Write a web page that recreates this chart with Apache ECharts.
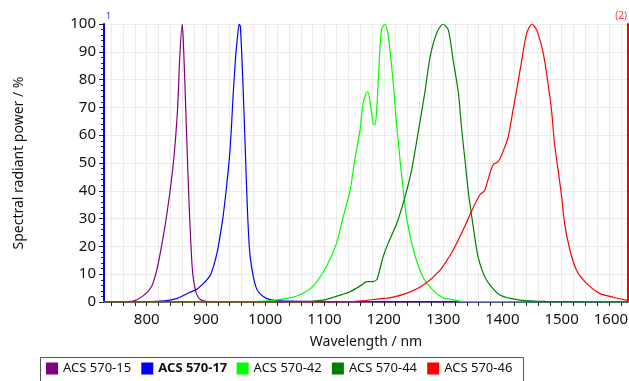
<!DOCTYPE html>
<html>
<head>
<meta charset="utf-8">
<script src="https://cdn.jsdelivr.net/npm/echarts@6/dist/echarts.min.js"></script>
<style>
  html, body { margin: 0; padding: 0; background: #fff; }
  #chart { width: 629px; height: 381px; }
</style>
</head>
<body>
<div id="chart"></div>
<script>
// series names and colours
const names = ['ACS 570-15', 'ACS 570-17', 'ACS 570-42', 'ACS 570-44', 'ACS 570-46'];
const colors = ['#800080', '#0000ff', '#00ff00', '#008000', '#ff0000'];

// wavelength (nm) / spectral radiant power (%)
const wl15 = [728, 760, 777, 794, 808, 817, 825, 835, 845, 852, 856, 860, 862, 866, 869, 872, 876, 879, 884, 890, 900, 920, 1612];
const p15 = [0, 0.1, 0.3, 2.2, 5.5, 11.5, 20, 33, 50, 69, 89, 100, 93, 69, 50, 33, 15, 8, 3, 1, 0.2, 0, 0];

const wl17 = [728, 800, 830, 850, 873, 884, 895, 907, 913, 919, 924, 929, 934, 940, 943, 946, 950, 953, 956, 958, 962, 966, 970, 974, 980, 985, 991, 1002, 1019, 1075, 1100, 1612];
const p17 = [0, 0.1, 0.4, 1.2, 3.5, 4.5, 6.5, 9.5, 13, 18, 24, 31, 40, 53, 63, 75, 88, 95, 100, 99, 81, 57, 33, 17.5, 9, 5, 3, 1.3, 0.5, 0.2, 0.1, 0];

const wl42 = [728, 960, 1000, 1036, 1058, 1080, 1103, 1120, 1132, 1143, 1151, 1160, 1165, 1170, 1173, 1178, 1182, 1185, 1188, 1191, 1196, 1202, 1207, 1215, 1221, 1227, 1233, 1238, 1250, 1266, 1283, 1300, 1312, 1334, 1612];
const p42 = [0, 0, 0.3, 1.3, 2.5, 5.5, 12.7, 21, 31, 40, 51, 62, 71.5, 75, 75.6, 70.3, 64.3, 63.7, 69, 81, 97.8, 100, 96.6, 81, 65.5, 52, 40, 31, 18.7, 9, 4.3, 1.5, 1, 0.2, 0];

const wl44 = [728, 1050, 1098, 1115, 1143, 1162, 1171, 1179, 1188, 1193, 1199, 1207, 1222, 1236, 1247, 1258, 1269, 1278, 1289, 1300, 1309, 1317, 1326, 1331, 1337, 1343, 1351, 1359, 1373, 1396, 1430, 1474, 1612];
const p44 = [0, 0, 0.7, 1.7, 3.7, 6, 7.3, 7.3, 8, 11.5, 16.3, 21, 28.3, 38, 47.5, 61, 75, 88, 96.6, 100, 97.8, 87, 75, 63, 51, 39, 27, 16.3, 8, 2.5, 0.7, 0.2, 0];

const wl46 = [728, 1100, 1143, 1199, 1210, 1238, 1266, 1295, 1317, 1334, 1351, 1362, 1370, 1379, 1385, 1393, 1401, 1410, 1418, 1424, 1432, 1441, 1450, 1458, 1469, 1477, 1483, 1488, 1494, 1500, 1505, 1514, 1525, 1542, 1564, 1587, 1609, 1612];
const p46 = [0, 0, 0.1, 1.3, 1.5, 3.1, 6, 11.5, 18.7, 26, 34, 38.5, 40, 46.3, 49.5, 50.5, 54, 59.5, 69, 76, 86, 96.6, 100, 97.8, 89.5, 78.7, 69, 57, 47.5, 38, 28.3, 18.7, 11.5, 6.7, 3.1, 1.7, 0.7, 0.5];

// axis ticks
const xLabels = [800, 900, 1000, 1100, 1200, 1300, 1400, 1500, 1600];
const xMinorTicks = [740, 760, 780, 800, 820, 840, 860, 880, 900, 920, 940, 960, 980, 1000, 1020, 1040, 1060, 1080, 1100, 1120, 1140, 1160, 1180, 1200, 1220, 1240, 1260, 1280, 1300, 1320, 1340, 1360, 1380, 1400, 1420, 1440, 1460, 1480, 1500, 1520, 1540, 1560, 1580, 1600];

const wls = [wl15, wl17, wl42, wl44, wl46];
const powers = [p15, p17, p42, p44, p46];
const font = 'Noto Sans';

const chart = echarts.init(document.getElementById('chart'));

// one legend per entry so the items sit on an even step, like the original
const legends = names.map((n, i) => ({
  left: 46 + i * 95.3,
  top: 362,
  padding: 0,
  itemWidth: 12,
  itemHeight: 12,
  icon: 'rect',
  data: [n],
  textStyle: {
    fontFamily: font,
    fontSize: 13,
    fontWeight: n === 'ACS 570-17' ? 'bold' : 'normal',
    color: '#111',
  },
}));

const option = {
  animation: false,
  textStyle: { fontFamily: font },
  grid: { left: 104, right: 1, top: 24, bottom: 79, outerBoundsMode: 'none' },
  legend: legends,
  xAxis: [
    {
      type: 'value',
      min: 728,
      max: 1612,
      name: 'Wavelength / nm',
      nameLocation: 'middle',
      nameGap: 33,
      nameTextStyle: { fontSize: 14, color: '#111' },
      axisLine: { lineStyle: { color: '#808080', width: 2 } },
      axisTick: { customValues: xMinorTicks, length: 4, lineStyle: { color: '#222' } },
      axisLabel: {
        customValues: xLabels,
        fontSize: 15,
        color: '#111',
        margin: 10,
        // last label is pulled in so it stays inside the frame
        formatter: (v) => (v === 1600 ? '{r|1600}' : String(v)),
        rich: { r: { fontSize: 15, fontFamily: font, color: '#111', padding: [0, 20, 0, 0] } },
      },
      splitLine: { show: true, lineStyle: { color: '#ebebeb', width: 1 } },
    },
    {
      type: 'value',
      position: 'top',
      min: 728,
      max: 1612,
      axisLine: { lineStyle: { color: '#808080', width: 2 } },
      axisTick: { show: false },
      axisLabel: { show: false },
      splitLine: { show: false },
    },
  ],
  yAxis: [
    {
      type: 'value',
      min: 0,
      max: 100,
      interval: 10,
      name: 'Spectral radiant power / %',
      nameLocation: 'middle',
      nameGap: 78,
      nameTextStyle: { fontSize: 14, color: '#111' },
      axisLine: { show: true, lineStyle: { color: '#0000ff', width: 2 } },
      axisTick: { show: true, length: 5, lineStyle: { color: '#222' } },
      minorTick: { show: true, splitNumber: 5, length: 3, lineStyle: { color: '#222' } },
      axisLabel: { fontSize: 15, color: '#111', margin: 8 },
      splitLine: { show: true, lineStyle: { color: '#ebebeb', width: 1 } },
    },
    {
      type: 'value',
      position: 'right',
      min: 0,
      max: 100,
      axisLine: { show: true, lineStyle: { color: '#ff0000', width: 2 } },
      axisTick: { show: false },
      axisLabel: { show: false },
      splitLine: { show: false },
    },
  ],
  graphic: [
    { type: 'text', left: 106, top: 12, style: { text: '1', fill: '#3333ff', font: '9px ' + font } },
    { type: 'text', right: 2, top: 11, style: { text: '(2)', fill: '#ff3333', font: '10px ' + font } },
    // legend frame
    { type: 'rect', left: 38, top: 355, shape: { width: 483, height: 30 }, style: { fill: 'none', stroke: '#555', lineWidth: 1 } },
  ],
  series: names.map((n, i) => ({
    name: n,
    type: 'line',
    showSymbol: false,
    smooth: 0.25,
    color: colors[i],
    lineStyle: { width: 1.2, color: colors[i] },
    data: wls[i].map((w, j) => [w, powers[i][j]]),
  })),
};

chart.setOption(option);
</script>
</body>
</html>
